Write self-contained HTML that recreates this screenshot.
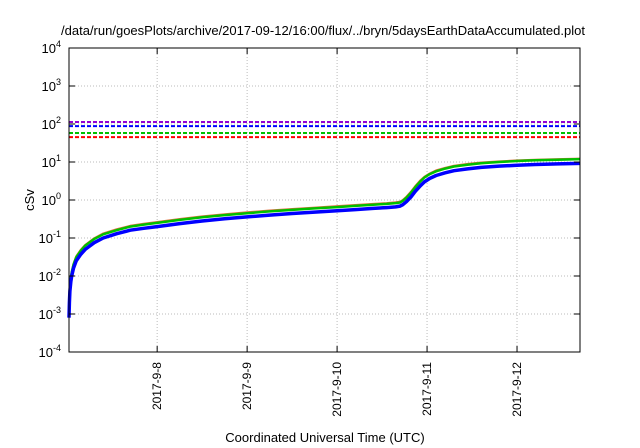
<!DOCTYPE html>
<html><head><meta charset="utf-8"><style>
html,body{margin:0;padding:0;background:#fff;}
svg{display:block;font-family:"Liberation Sans",sans-serif;}
</style></head><body>
<svg id="chart" width="640" height="448" viewBox="0 0 640 448" xmlns="http://www.w3.org/2000/svg">
<text x="323" y="35" font-size="13" text-anchor="middle" fill="#000">/data/run/goesPlots/archive/2017-09-12/16:00/flux/../bryn/5daysEarthDataAccumulated.plot</text>
<text x="34" y="200" font-size="13" text-anchor="middle" transform="rotate(-90 34 200)">cSv</text>
<text x="325" y="442" font-size="13" text-anchor="middle">Coordinated Universal Time (UTC)</text>
<g id="grid"></g><g id="series"></g><g id="axes"></g>
</svg>
<script>
const xTickDays = [1,2,3,4,5];
const xTickLabels = ["2017-9-8","2017-9-9","2017-9-10","2017-9-11","2017-9-12"];
const yTickExps = [-4,-3,-2,-1,0,1,2,3,4];
const timeDays = [0.02,0.025,0.03,0.04,0.05,0.07,0.1,0.15,0.2,0.3,0.4,0.55,0.7,0.85,1.0,1.25,1.5,1.75,2.0,2.25,2.5,2.75,3.0,3.2,3.4,3.55,3.65,3.7,3.73,3.77,3.82,3.87,3.92,3.97,4.03,4.1,4.2,4.3,4.45,4.6,4.8,5.0,5.2,5.45,5.7];
const blueVals  = [0.0008,0.002,0.004,0.007,0.01,0.016,0.025,0.037,0.05,0.075,0.1,0.13,0.16,0.18,0.2,0.24,0.28,0.32,0.36,0.4,0.44,0.48,0.52,0.56,0.6,0.63,0.66,0.69,0.75,0.9,1.2,1.7,2.3,3.0,3.7,4.4,5.2,5.9,6.6,7.2,7.8,8.2,8.6,8.9,9.2];
const greenVals = [0.001,0.0025,0.005,0.0088,0.0125,0.02,0.031,0.046,0.063,0.094,0.125,0.16,0.2,0.225,0.25,0.3,0.35,0.4,0.45,0.5,0.55,0.6,0.65,0.7,0.75,0.79,0.83,0.86,0.95,1.15,1.55,2.2,3.0,3.9,4.8,5.7,6.7,7.6,8.5,9.3,10,10.6,11.1,11.5,11.9];
const redVals   = [0.0011,0.0026,0.0053,0.0092,0.013,0.021,0.033,0.049,0.066,0.099,0.132,0.17,0.21,0.238,0.264,0.317,0.37,0.42,0.475,0.53,0.58,0.63,0.69,0.74,0.79,0.83,0.87,0.91,1.0,1.22,1.65,2.35,3.2,4.1,5.0,6.0,7.0,8.0,8.9,9.7,10.4,11.0,11.5,11.9,12.3];
const limitVals = [113,88,58,45];
const limitColors = ["#9400d3","#0000ff","#00c000","#ff0000"];
const L=69,R=580,T=48,B=352,X0=0.02,X1=5.7;
const NS="http://www.w3.org/2000/svg";
function xs(d){return L+(d-X0)/(X1-X0)*(R-L);}
function ys(v){return B-(Math.log10(v)+4)/8*(B-T);}
function mk(tag,attrs,parent){const e=document.createElementNS(NS,tag);for(const k in attrs)e.setAttribute(k,attrs[k]);parent.appendChild(e);return e;}
const grid=document.getElementById('grid'),series=document.getElementById('series'),axes=document.getElementById('axes');
xTickDays.forEach((d,i)=>{
  const x=xs(d);
  const g=mk('line',{x1:x,x2:x,y1:T,y2:B,stroke:'#bbb','stroke-dasharray':'1,2'},grid);
  
  
  const t1=mk('line',{x1:x,x2:x,y1:B,y2:B-6,stroke:'#000'},axes);
  
  
  const t2=mk('line',{x1:x,x2:x,y1:T,y2:T+6,stroke:'#000'},axes);
  
  
  const tx=mk('text',{x:x+4,y:362,'font-size':12,'text-anchor':'end',transform:`rotate(-90 ${x+4} 362)`},axes);
  tx.textContent=xTickLabels[i];
  
  
});
yTickExps.forEach(e=>{
  const y=ys(Math.pow(10,e));
  if(e>-4&&e<4){const g=mk('line',{x1:L,x2:R,y1:y,y2:y,stroke:'#bbb','stroke-dasharray':'1,2'},grid);
  
  }
  const t1=mk('line',{x1:L,x2:L+6,y1:y,y2:y,stroke:'#000'},axes);
  
  
  const t2=mk('line',{x1:R,x2:R-6,y1:y,y2:y,stroke:'#000'},axes);
  
  
  const tx=mk('text',{x:L-8,y:y+5,'font-size':13,'text-anchor':'end'},axes);
  tx.innerHTML='10<tspan dy="-6" font-size="9">'+e+'</tspan>';
  
  
});
limitVals.forEach((v,i)=>{
  const y=ys(v);
  const l=mk('line',{x1:L,x2:R,y1:y,y2:y,stroke:limitColors[i],'stroke-width':2,'stroke-dasharray':'4,2'},series);
  
  
});
[[redVals,'#e07040',2,'red-dose-line'],[greenVals,'#00c000',2.5,'green-dose-line'],[blueVals,'#0000ff',3.5,'blue-dose-line']].forEach(([vals,c,w,n])=>{
  const d=timeDays.map((t,i)=>(i?'L':'M')+xs(t).toFixed(1)+','+ys(vals[i]).toFixed(1)).join(' ');
  const p=mk('path',{d:d,fill:'none',stroke:c,'stroke-width':w,'stroke-linejoin':'round'},series);
  
  
});
const f=mk('rect',{x:L,y:T,width:R-L,height:B-T,fill:'none',stroke:'#000','stroke-width':1},axes);


</script>
</body></html>
